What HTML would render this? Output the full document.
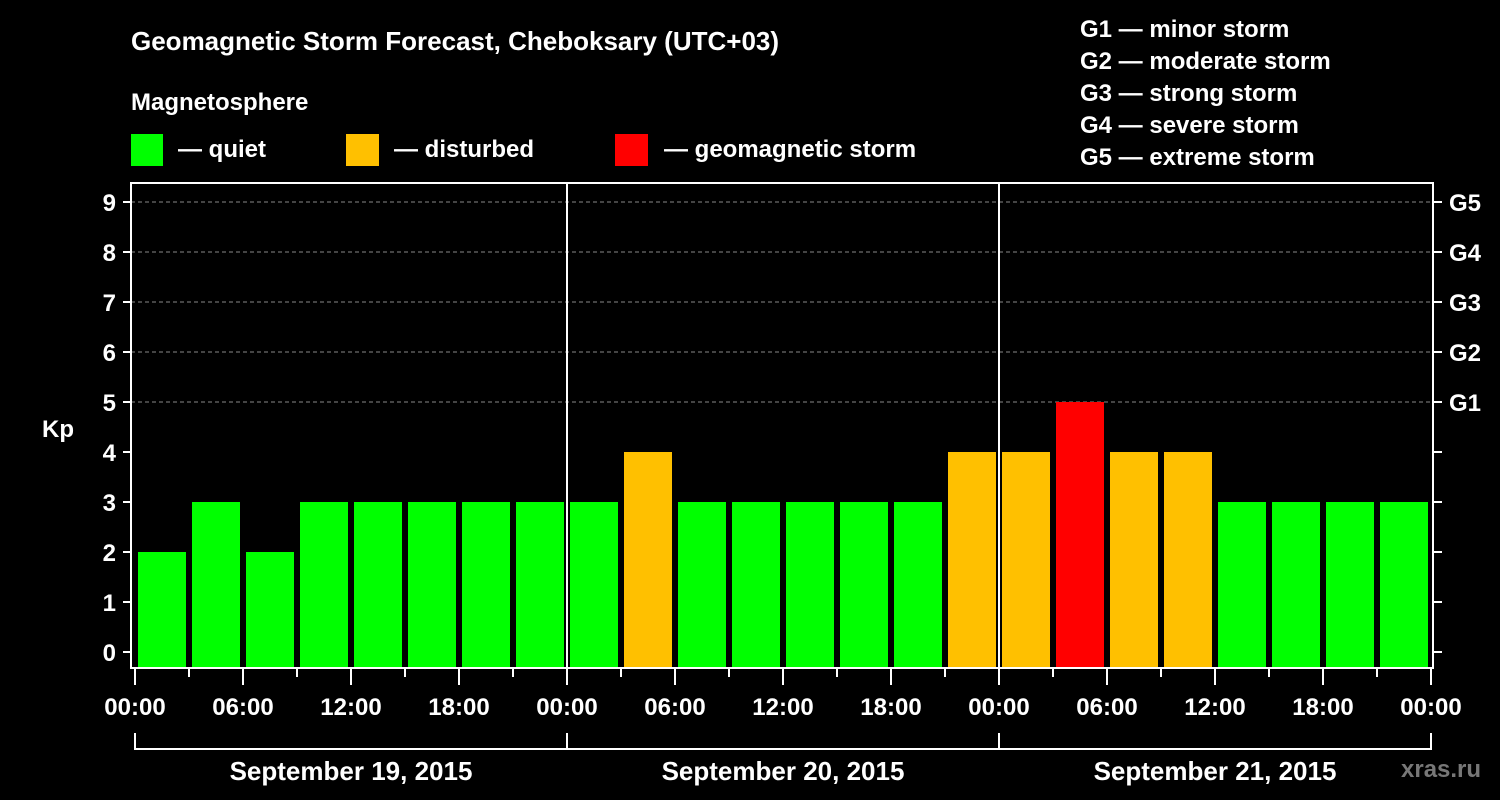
<!DOCTYPE html>
<html><head><meta charset="utf-8"><style>
html,body{margin:0;padding:0;background:#000;}
svg{display:block;font-family:"Liberation Sans",sans-serif;font-weight:bold;}
</style></head><body>
<svg id="chart" width="1500" height="800" viewBox="0 0 1500 800">
<rect width="1500" height="800" fill="#000"/>
<text x="131" y="50" fill="#fff" font-size="26">Geomagnetic Storm Forecast, Cheboksary (UTC+03)</text>
<text x="131" y="110" fill="#fff" font-size="24">Magnetosphere</text>
<g><rect x="131" y="134" width="32" height="32" fill="#00ff00"/><text x="178" y="157" fill="#fff" font-size="24">— quiet</text></g>
<g><rect x="346" y="134" width="33" height="32" fill="#ffc000"/><text x="394" y="157" fill="#fff" font-size="24">— disturbed</text></g>
<g><rect x="615" y="134" width="33" height="32" fill="#ff0000"/><text x="664" y="157" fill="#fff" font-size="24">— geomagnetic storm</text></g>
<g fill="#fff" font-size="24">
<text x="1080" y="37">G1 — minor storm</text>
<text x="1080" y="69">G2 — moderate storm</text>
<text x="1080" y="101">G3 — strong storm</text>
<text x="1080" y="133">G4 — severe storm</text>
<text x="1080" y="165">G5 — extreme storm</text>
</g>
<text x="42" y="437" fill="#fff" font-size="24">Kp</text>
<g id="grid"></g>
<g id="bars"></g>
<g id="axes"></g>
<text x="1401" y="777" fill="#777" font-size="24">xras.ru</text>
</svg>
<script>
const kpValues = [2,3,2,3,3,3,3,3, 3,4,3,3,3,3,3,4, 4,5,4,4,3,3,3,3];
const days = ["September 19, 2015","September 20, 2015","September 21, 2015"];
const yTicks = [0,1,2,3,4,5,6,7,8,9];
const gLevels = ["G1","G2","G3","G4","G5"];
const xTickLabels = ["00:00","06:00","12:00","18:00"];

const NS="http://www.w3.org/2000/svg";
const X0=135, DAYW=432, SLOT=DAYW/8, L=131, R=1433, T=183, B=668;
const y = v => 652 - v*50;
const x = h => X0 + h/24*DAYW;
function mk(tag, attrs, parent){const e=document.createElementNS(NS,tag);for(const k in attrs)e.setAttribute(k,attrs[k]);parent.appendChild(e);return e;}
const grid=document.getElementById('grid'), bars=document.getElementById('bars'), axes=document.getElementById('axes');

// grid dashed lines 5..9
for(let v=5; v<=9; v++){
  const ln=mk('line',{x1:L,x2:R,y1:y(v),y2:y(v),stroke:'#888','stroke-dasharray':'4,3','stroke-width':1},grid);
  
  
}
// bars
kpValues.forEach((v,i)=>{
  const c = v>=5 ? '#ff0000' : (v>=4 ? '#ffc000' : '#00ff00');
  const r=mk('rect',{x:x(i*3)+3,y:y(v),width:SLOT-6,height:667-y(v),fill:c},bars);
  
  
});
// frame
const fr=mk('rect',{x:L,y:T,width:R-L,height:B-T,fill:'none',stroke:'#fff','stroke-width':2},axes);


// day separators
for(let d=1; d<days.length; d++){
  const s=mk('line',{x1:x(d*24),x2:x(d*24),y1:T,y2:B,stroke:'#fff','stroke-width':2},axes);
  
  
}
// y ticks and labels
yTicks.forEach(v=>{
  mk('line',{x1:L-8,x2:L,y1:y(v),y2:y(v),stroke:'#fff','stroke-width':2},axes);
  mk('line',{x1:R,x2:R+9,y1:y(v),y2:y(v),stroke:'#fff','stroke-width':2},axes);
  const t=mk('text',{x:116,y:y(v)+9,fill:'#fff','font-size':24,'text-anchor':'end'},axes);
  t.textContent=v;
  
  
});
gLevels.forEach((g,i)=>{
  const t=mk('text',{x:1449,y:y(5+i)+9,fill:'#fff','font-size':24},axes);
  t.textContent=g;
  
  
});
// x ticks
for(let h=0; h<=72; h+=3){
  const major = h%6===0;
  mk('line',{x1:x(h),x2:x(h),y1:B,y2:major?685:677,stroke:'#fff','stroke-width':2},axes);
  if(major){
    const t=mk('text',{x:x(h),y:715,fill:'#fff','font-size':24,'text-anchor':'middle'},axes);
    t.textContent=xTickLabels[(h/6)%4];
    
    
  }
}
// day brackets
mk('line',{x1:x(0),x2:x(72),y1:749,y2:749,stroke:'#fff','stroke-width':2},axes);
for(let d=0; d<=days.length; d++) mk('line',{x1:x(d*24),x2:x(d*24),y1:733,y2:750,stroke:'#fff','stroke-width':2},axes);
days.forEach((dl,d)=>{
  const t=mk('text',{x:x(d*24+12),y:780,fill:'#fff','font-size':26,'text-anchor':'middle'},axes);
  t.textContent=dl;
  
  
});
</script>
</body></html>
